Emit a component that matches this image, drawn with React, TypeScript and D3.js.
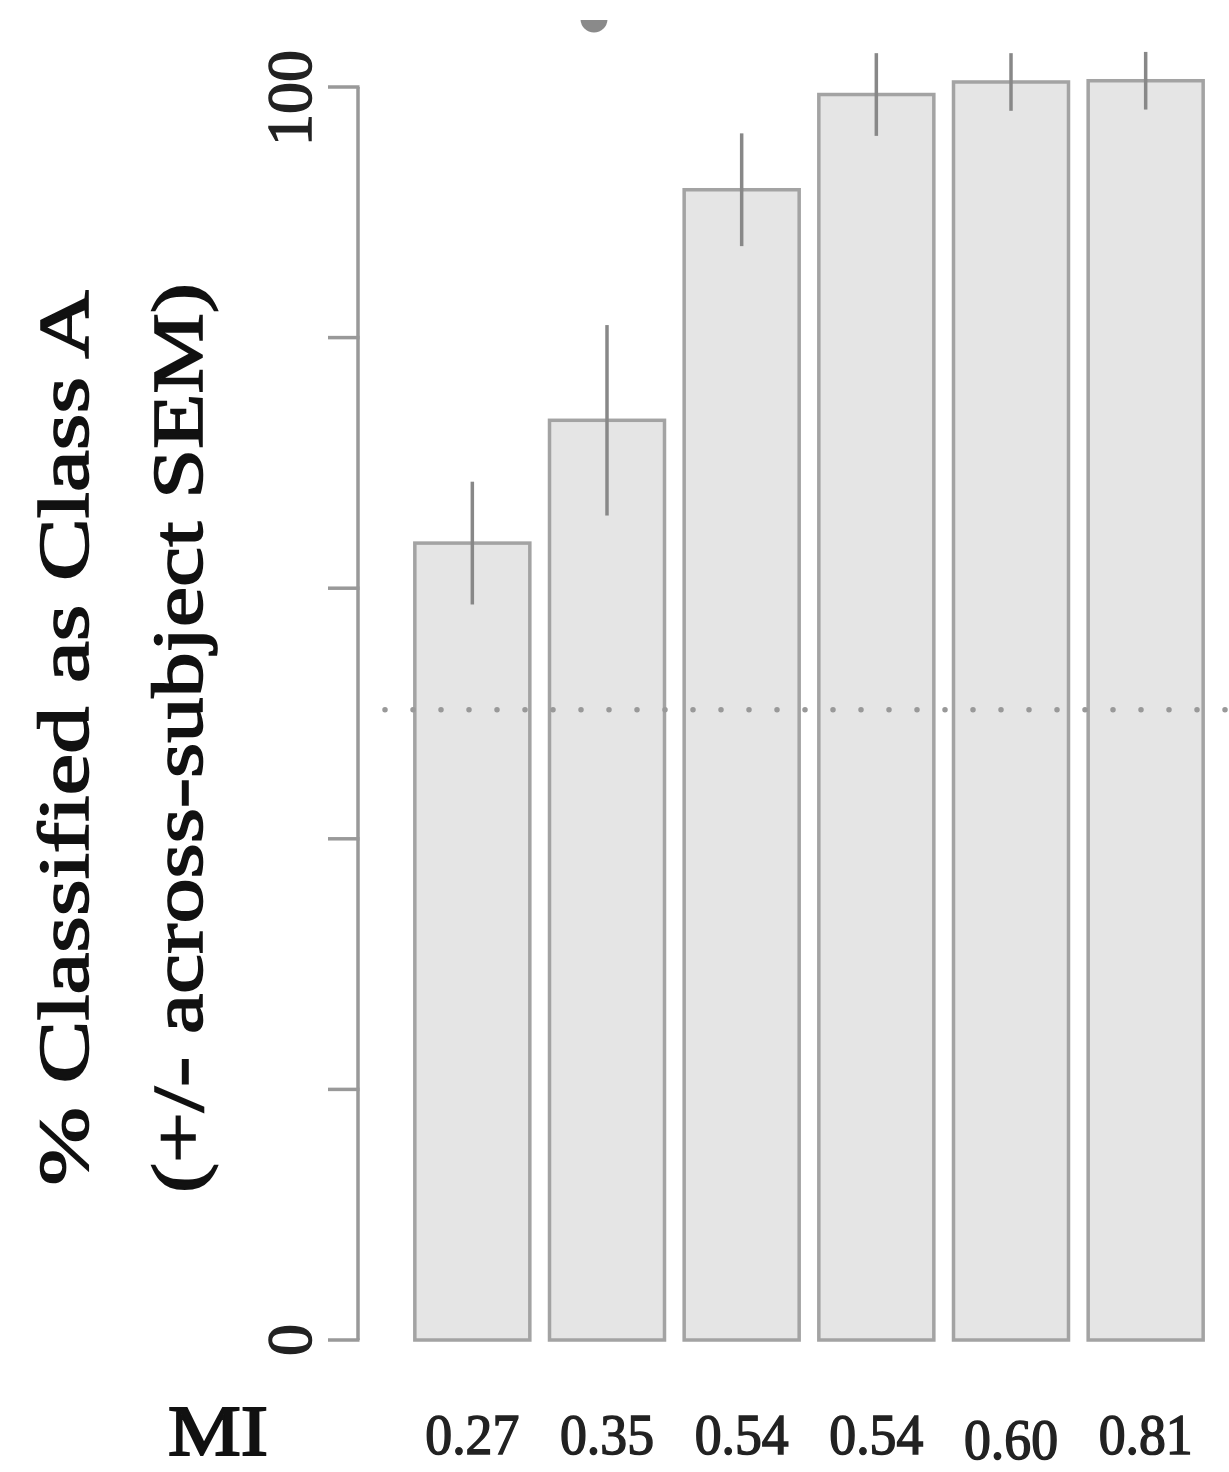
import React, { useEffect, useRef } from 'react';
import * as d3 from 'd3';

// values
const categories = ['0.27', '0.35', '0.54', '0.54', '0.60', '0.81'];
const means = [63.6, 73.4, 91.8, 99.4, 100.4, 100.5];
const sems = [4.9, 7.6, 4.5, 3.3, 2.3, 2.3];
const yTicks = [0, 20, 40, 60, 80, 100];
const yTickLabels = ['0', '', '', '', '', '100'];
const chanceLevel = 50.3;

const FONT = "Palatino, 'Palatino Linotype', 'Liberation Serif', serif";

const App = () => {
  const svgRef = useRef<SVGSVGElement>(null);

  useEffect(() => {
    const W = 1229;
    const H = 1472;
    const svg = d3.select(svgRef.current);
    svg.selectAll('*').remove();
    svg.attr('width', W).attr('height', H);

    const y = d3.scaleLinear().domain([0, 100]).range([1340, 87]);
    const x = d3.scaleBand<string>()
      .domain(categories.map((_, i) => String(i)))
      .range([405, 1213])
      .paddingInner(0.146)
      .paddingOuter(0.073);

    // bars
    svg.append('g')
      .selectAll('rect')
      .data(means)
      .enter()
      .append('rect')
      .attr('x', (_, i) => x(String(i))!)
      .attr('width', x.bandwidth())
      .attr('y', d => y(d))
      .attr('height', d => y(0) - y(d))
      .attr('fill', '#e5e5e5')
      .attr('stroke', '#a3a3a3')
      .attr('stroke-width', 3.5);

    // chance line
    svg.append('line')
      .attr('x1', 385)
      .attr('x2', W)
      .attr('y1', y(chanceLevel))
      .attr('y2', y(chanceLevel))
      .attr('stroke', '#999')
      .attr('stroke-width', 5.5)
      .attr('stroke-linecap', 'round')
      .attr('stroke-dasharray', '0 28');

    // error bars
    svg.append('g')
      .selectAll('line')
      .data(means)
      .enter()
      .append('line')
      .attr('x1', (_, i) => x(String(i))! + x.bandwidth() / 2)
      .attr('x2', (_, i) => x(String(i))! + x.bandwidth() / 2)
      .attr('y1', (d, i) => y(d + sems[i]))
      .attr('y2', (d, i) => y(d - sems[i]))
      .attr('stroke', '#888')
      .attr('stroke-width', 3.5);

    // y axis
    const axisX = 358;
    const axis = svg.append('g');
    axis.append('line')
      .attr('x1', axisX).attr('x2', axisX)
      .attr('y1', y(0)).attr('y2', y(100))
      .attr('stroke', '#999').attr('stroke-width', 3.5);
    axis.selectAll('line.tick')
      .data(yTicks)
      .enter()
      .append('line')
      .attr('class', 'tick')
      .attr('x1', axisX - 30).attr('x2', axisX + 1.5)
      .attr('y1', d => y(d)).attr('y2', d => y(d))
      .attr('stroke', '#999').attr('stroke-width', 3.5);
    axis.selectAll('text')
      .data(yTicks)
      .enter()
      .append('text')
      .attr('transform', d => `translate(311,${y(d) + (d === 100 ? 11 : 0)}) rotate(-90)`)
      .attr('text-anchor', 'middle')
      .attr('font-family', FONT)
      .attr('font-size', 64)
      .attr('fill', '#222')
      .attr('stroke', '#222')
      .attr('stroke-width', 1.5)
      .text((_, i) => yTickLabels[i]);

    // y title
    const titleLines = ['% Classified as Class A', '(+/- across-subject SEM)'];
    const titleBaselines = [88, 202];
    svg.selectAll('text.ytitle')
      .data(titleLines)
      .enter()
      .append('text')
      .attr('class', 'ytitle')
      .attr('transform', (_, i) => `translate(${titleBaselines[i]},738) rotate(-90)`)
      .attr('text-anchor', 'middle')
      .attr('font-family', FONT)
      .attr('font-size', 72)
      .attr('fill', '#111')
      .attr('stroke', '#111')
      .attr('stroke-width', 1.6)
      .attr('textLength', (_, i) => (i === 0 ? 895 : 910))
      .attr('lengthAdjust', 'spacingAndGlyphs')
      .text(d => d);

    // category labels
    svg.append('text')
      .attr('x', 168)
      .attr('y', 1455)
      .attr('font-family', FONT)
      .attr('font-size', 72)
      .attr('fill', '#111')
      .attr('stroke', '#111')
      .attr('stroke-width', 2)
      .attr('textLength', 100)
      .attr('lengthAdjust', 'spacingAndGlyphs')
      .text('MI');

    svg.append('g')
      .selectAll('text')
      .data(categories)
      .enter()
      .append('text')
      .attr('x', (_, i) => x(String(i))! + x.bandwidth() / 2)
      .attr('y', (d, i) => (i === 4 ? 1459 : 1454))
      .attr('text-anchor', 'middle')
      .attr('font-family', FONT)
      .attr('font-size', 56)
      .attr('fill', '#222')
      .attr('stroke', '#222')
      .attr('stroke-width', 1.5)
      .attr('textLength', 94)
      .attr('lengthAdjust', 'spacingAndGlyphs')
      .text(d => d);

    // clipped glyph remnant at the top edge
    svg.append('clipPath').attr('id', 'topclip')
      .append('rect').attr('x', 0).attr('y', 20).attr('width', W).attr('height', 40);
    svg.append('circle')
      .attr('cx', 594).attr('cy', 19).attr('r', 13.5)
      .attr('fill', '#8a8a8a')
      .attr('clip-path', 'url(#topclip)');
  }, []);

  return (
    <svg ref={svgRef} style={{ position: 'absolute', left: 0, top: 0, background: '#fff' }}></svg>
  );
};

export default App;
